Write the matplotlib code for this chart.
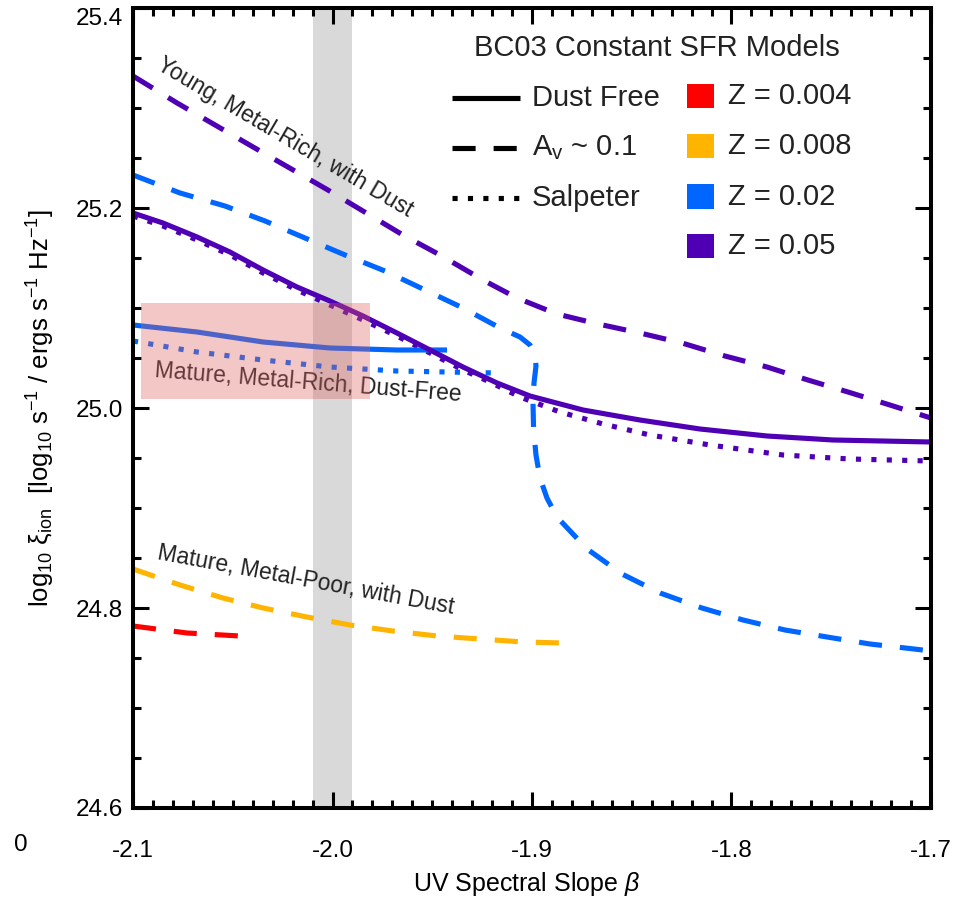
import numpy as np
import matplotlib
matplotlib.use("Agg")
import matplotlib.pyplot as plt
from matplotlib.patches import Rectangle

plt.rcParams['font.family'] = ['Liberation Sans', 'DejaVu Sans']
plt.rcParams['mathtext.fontset'] = 'custom'
plt.rcParams['mathtext.rm'] = 'Liberation Sans'
plt.rcParams['mathtext.it'] = 'Liberation Sans:italic'
plt.rcParams['mathtext.default'] = 'regular'

# colours for each metallicity
c_red = '#FF0000'
c_orange = '#FFB400'
c_blue = '#0066FF'
c_purple = '#5000B4'

# Z = 0.05, dust (A_v ~ 0.1)
b_z05_dust = [-2.1, -2.0779, -2.0398, -2.0023, -1.9647, -1.9461, -1.9246, -1.9075, -1.8875, -1.8669,
              -1.8459, -1.8248, -1.8033, -1.7822, -1.7617, -1.7416, -1.7206, -1.7]
x_z05_dust = [25.332, 25.305, 25.261, 25.218, 25.173, 25.153, 25.128, 25.110, 25.094, 25.084,
              25.075, 25.065, 25.052, 25.041, 25.028, 25.016, 25.003, 24.990]

# Z = 0.02, dust (A_v ~ 0.1)
b_z02_dust = [-2.1, -2.0764, -2.0539, -2.0338, -2.0138, -1.9937, -1.9737, -1.9536, -1.9346, -1.9160,
              -1.9060, -1.9010, -1.8985, -1.8980, -1.8990, -1.8995, -1.8992, -1.8980, -1.896, -1.8925,
              -1.8875, -1.8724, -1.8549, -1.8358, -1.8148, -1.7942, -1.7732, -1.7521, -1.7306, -1.7085,
              -1.7]
x_z02_dust = [25.233, 25.215, 25.202, 25.187, 25.170, 25.153, 25.137, 25.118, 25.100, 25.080,
              25.071, 25.063, 25.054, 25.042, 25.025, 25.005, 24.978, 24.953, 24.930, 24.910,
              24.891, 24.859, 24.834, 24.815, 24.800, 24.788, 24.778, 24.771, 24.764, 24.759,
              24.757]

# Z = 0.05, dust free
b_z05_free = [-2.1, -2.085, -2.0679, -2.0514, -2.0348, -2.0178, -2.0013, -1.9847, -1.9677, -1.9511,
              -1.9346, -1.9175, -1.901, -1.8744, -1.8459, -1.8158, -1.7822, -1.7491, -1.7]
x_z05_free = [25.195, 25.185, 25.171, 25.156, 25.138, 25.121, 25.107, 25.092, 25.075, 25.058,
              25.041, 25.025, 25.012, 24.998, 24.988, 24.979, 24.972, 24.968, 24.966]

# Z = 0.05, Salpeter
b_z05_salp = [-2.1, -2.085, -2.0679, -2.0514, -2.0348, -2.0178, -2.0013, -1.9847, -1.9677, -1.9511,
              -1.9346, -1.9211, -1.906, -1.886, -1.8644, -1.8409, -1.8108, -1.7742, -1.7406, -1.7]
x_z05_salp = [25.192, 25.182, 25.168, 25.153, 25.135, 25.118, 25.103, 25.088, 25.072, 25.055,
              25.038, 25.026, 25.011, 24.996, 24.984, 24.973, 24.963, 24.953, 24.949, 24.947]

# Z = 0.02, dust free and Salpeter
b_z02_free = [-2.1, -2.0679, -2.0348, -2.0013, -1.9677, -1.9426]
x_z02_free = [25.083, 25.076, 25.066, 25.060, 25.058, 25.058]
b_z02_salp = [-2.1, -2.0679, -2.0348, -2.0013, -1.9677, -1.9175]
x_z02_salp = [25.067, 25.056, 25.048, 25.041, 25.037, 25.035]

# Z = 0.008 and Z = 0.004, dust
b_z008_dust = [-2.1, -2.0764, -2.0549, -2.0348, -2.0128, -1.9912, -1.9697, -1.9476, -1.9261, -1.9045, -1.8845]
x_z008_dust = [24.839, 24.823, 24.810, 24.800, 24.791, 24.783, 24.777, 24.772, 24.769, 24.766, 24.765]
b_z004_dust = [-2.1, -2.0729, -2.0464]
x_z004_dust = [24.782, 24.775, 24.772]

# shaded regions
band_beta = [-2.01, -1.99]
box_beta = [-2.096, -1.981]
box_xi = [25.009, 25.105]

legend_styles = ['Dust Free', r'A$_{v}$ ~ 0.1', 'Salpeter']
legend_z = ['Z = 0.004', 'Z = 0.008', 'Z = 0.02', 'Z = 0.05']
legend_colors = [c_red, c_orange, c_blue, c_purple]

lw = 3.7
dash = (0, (4.5, 3.5))
dot = (0, (1, 2.0))

fig = plt.figure(figsize=(9.68, 9.0), dpi=100)
ax = fig.add_axes([133 / 968, 1 - 808 / 900, 798 / 968, 800 / 900])

ax.axvspan(band_beta[0], band_beta[1], color='#d9d9d9', lw=0, zorder=0)

ax.plot(b_z05_dust, x_z05_dust, color=c_purple, lw=lw, ls=dash)
ax.plot(b_z02_dust, x_z02_dust, color=c_blue, lw=lw, ls=dash)
ax.plot(b_z008_dust, x_z008_dust, color=c_orange, lw=lw, ls=dash)
ax.plot(b_z004_dust, x_z004_dust, color=c_red, lw=lw, ls=dash)
ax.plot(b_z02_salp, x_z02_salp, color=c_blue, lw=lw, ls=dot)
ax.plot(b_z05_salp, x_z05_salp, color=c_purple, lw=lw, ls=dot)
ax.plot(b_z02_free, x_z02_free, color=c_blue, lw=lw, solid_capstyle='butt')
ax.plot(b_z05_free, x_z05_free, color=c_purple, lw=lw, solid_capstyle='butt')

tcol = '#222222'
ax.text(-2.0238, 25.271, 'Young, Metal-Rich, with Dust', rotation=-30.5, rotation_mode='anchor',
        ha='center', va='center', fontsize=16.5, color=tcol)
ax.text(-2.012, 25.025, 'Mature, Metal-Rich, Dust-Free', rotation=-4.5, rotation_mode='anchor',
        ha='center', va='center', fontsize=16.5, color=tcol)
ax.text(-2.0133, 24.828, 'Mature, Metal-Poor, with Dust', rotation=-10.5, rotation_mode='anchor',
        ha='center', va='center', fontsize=16.5, color=tcol)

ax.add_patch(Rectangle((box_beta[0], box_xi[0]), box_beta[1] - box_beta[0], box_xi[1] - box_xi[0],
                       facecolor='#e06060', alpha=0.35, lw=0, zorder=5))

# legend block
ax.text(0.6566, 0.95, 'BC03 Constant SFR Models', transform=ax.transAxes, ha='center', va='center',
        fontsize=21, color=tcol)
rows = [0.8875, 0.825, 0.7625]
for y, ls, lab in zip(rows, ['-', dash, dot], legend_styles):
    ax.plot([0.3997, 0.485], [y, y], transform=ax.transAxes, color='k', lw=lw, ls=ls,
            solid_capstyle='butt')
    ax.text(0.5, y, lab, transform=ax.transAxes, ha='left', va='center', fontsize=21, color=tcol)
zrows = [0.89, 0.8275, 0.764, 0.7025]
for y, col, lab in zip(zrows, legend_colors, legend_z):
    ax.add_patch(Rectangle((0.6942, y - 0.0156), 0.0338, 0.031, transform=ax.transAxes,
                           facecolor=col, lw=0))
    ax.text(0.7456, y, lab, transform=ax.transAxes, ha='left', va='center', fontsize=21, color=tcol)

ax.set_xlim(-2.1, -1.7)
ax.set_ylim(24.6, 25.4)
ax.set_xticks([-2.1, -2.0, -1.9, -1.8, -1.7])
ax.set_xticklabels(['-2.1', '-2.0', '-1.9', '-1.8', '-1.7'])
ax.set_yticks([24.6, 24.8, 25.0, 25.2, 25.4])
ax.set_yticklabels(['24.6', '24.8', '25.0', '25.2', '25.4'])
ax.set_xticks(np.arange(-2.1, -1.699, 0.01), minor=True)
ax.set_yticks(np.arange(24.6, 25.401, 0.05), minor=True)
ax.tick_params(which='both', direction='in', top=True, right=True, width=2.2, labelsize=17.5)
ax.tick_params(which='major', length=11.5)
ax.tick_params(which='minor', length=5.8)
ax.tick_params(axis='x', pad=23)
ax.tick_params(axis='y', pad=7)
ax.get_yticklabels()[-1].set_va('top')
for s in ax.spines.values():
    s.set_linewidth(2.9)

ax.set_xlabel(r'UV Spectral Slope $\it{\beta}$', fontsize=18)
ax.xaxis.set_label_coords(0.493, -0.077)
ax.set_ylabel(r'log$_{10}$ $\xi_{ion}$  [log$_{10}$ s$^{-1}$ / ergs s$^{-1}$ Hz$^{-1}$]', fontsize=18.5)
ax.yaxis.set_label_coords(-0.095, 0.5)

fig.text(21 / 968, 1 - 845 / 900, '0', ha='center', va='center', fontsize=17.5)

fig.savefig('out.png', dpi=100)
